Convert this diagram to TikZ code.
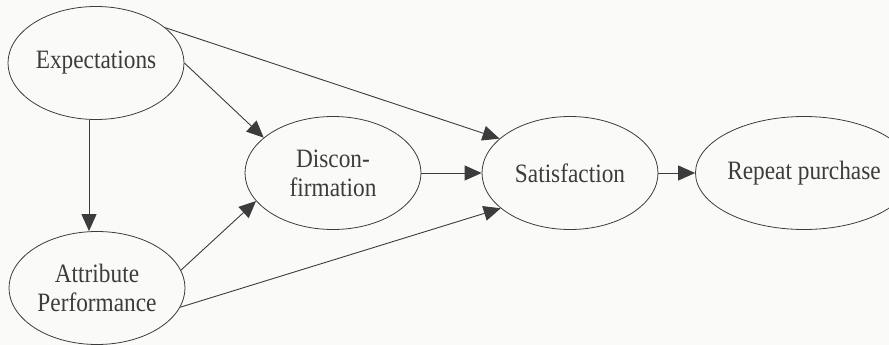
\documentclass[tikz,border=0pt]{standalone}
\usepackage{fontspec}
\setmainfont{Liberation Serif}[FakeStretch=0.88]
\usepackage{tikz}
\usetikzlibrary{shapes.geometric,arrows.meta}
\definecolor{inkgray}{HTML}{3C3C3C}
\definecolor{papergray}{HTML}{FAFAF8}
\tikzset{
    ovl/.style={draw=inkgray,ellipse,minimum width=176pt,minimum height=113pt,inner sep=0pt,line width=0.8pt,text=inkgray,align=center,font=\fontsize{26.5}{29}\selectfont},
    arr/.style={draw=inkgray,line width=0.9pt,-{Triangle[length=17pt,width=15pt]}},
}

\begin{document}
\begin{tikzpicture}[x=1pt,y=-1pt]
            \fill[papergray] (0,0) rectangle (889,345); % paper
            \useasboundingbox (0,0) rectangle (889,345);

            \node[ovl] (exp) at (96,63) {Expectations}; % ovals
            \node[ovl] (att) at (97,288) {Attribute\\Performance};
            \node[ovl] (dis) at (333,173) {Discon-\\firmation};
            \node[ovl] (sat) at (570,173) {Satisfaction};
            \node[ovl,minimum width=170pt] (rep) at (804,173) {Repeat purchase};

            \draw[arr] ([xshift=-7pt]exp.south) -- ([xshift=-8pt]att.north); % arrows
            \draw[arr] (exp.east) -- (dis.153);
            \draw[arr] (exp.27) -- (sat.154);
            \draw[arr] (att.12) -- (dis.200);
            \draw[arr] (att.-13) -- (sat.207);
            \draw[arr] (dis.east) -- (sat.west);
            \draw[arr] (sat.east) -- (rep.west);
        \end{tikzpicture}
\end{document}
